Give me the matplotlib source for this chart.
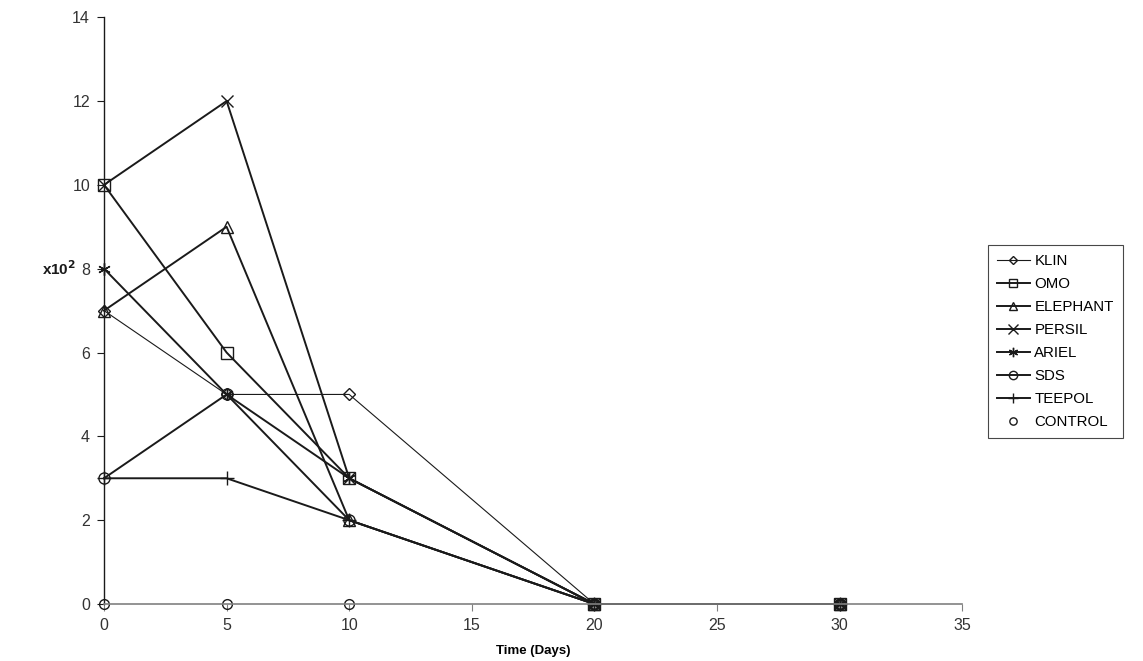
import matplotlib
matplotlib.use("Agg")
import matplotlib.pyplot as plt

plt.rcParams['font.family'] = ['Liberation Sans', 'DejaVu Sans']

days = [0, 5, 10, 20, 30]
klin = [7, 5, 5, 0, 0]
omo = [10, 6, 3, 0, 0]
elephant = [7, 9, 2, 0, 0]
persil = [10, 12, 3, 0, 0]
ariel = [8, 5, 3, 0, 0]
sds = [3, 5, 2, 0, 0]
teepol = [3, 3, 2, 0, 0]
control = [0, 0, 0, 0, 0]

series_names = ["KLIN", "OMO", "ELEPHANT", "PERSIL", "ARIEL", "SDS", "TEEPOL", "CONTROL"]
series_vals = [klin, omo, elephant, persil, ariel, sds, teepol, control]
markers = ['D', 's', '^', 'x', (6, 2, 0), 'o', '+', 'o']
msizes = [6, 8, 8, 9, 9, 8, 10, 7]
lws = [0.8, 1.4, 1.4, 1.4, 1.4, 1.4, 1.4, 0]

xticks = [0, 5, 10, 15, 20, 25, 30, 35]
yticks = [0, 2, 4, 6, 8, 10, 12, 14]

fig = plt.figure(figsize=(11.43, 6.61), dpi=100)
ax = fig.add_axes([0.091, 0.0862, 0.7508, 0.8878])

for name, vals, m, ms, lw in zip(series_names, series_vals, markers, msizes, lws):
    ls = '-' if lw > 0 else 'none'
    ax.plot(days, vals, color='#1a1a1a', linestyle=ls, linewidth=max(lw, 0.1),
            marker=m, markersize=ms, markerfacecolor='none',
            markeredgecolor='#1a1a1a', markeredgewidth=1.0, label=name, clip_on=False)

ax.set_xlim(0, 35)
ax.set_ylim(0, 14)
ax.set_xticks(xticks)
ax.set_yticks(yticks)
ax.tick_params(axis='both', direction='out', length=5, labelsize=11.5, colors='#333333')
ax.tick_params(axis='x', color='#808080', pad=5)
ax.tick_params(axis='y', color='#1a1a1a', pad=5)
for s in ['top', 'right']:
    ax.spines[s].set_visible(False)
ax.spines['left'].set_color('#1a1a1a')
ax.spines['bottom'].set_color('#808080')
ax.spines['left'].set_linewidth(1.0)
ax.spines['bottom'].set_linewidth(1.2)

ax.set_xlabel("Time (Days)", fontsize=9.5, fontweight='bold', labelpad=9)
ax.annotate("x10$^\\mathbf{2}$", xy=(0, 8), xycoords='data', xytext=(-20, 0),
            textcoords='offset points', ha='right', va='center',
            fontsize=11, fontweight='bold', color='#1a1a1a')

leg = ax.legend(loc='upper left', bbox_to_anchor=(1.030, 0.612), frameon=True,
                fancybox=False, edgecolor='#1a1a1a', fontsize=10.8,
                handlelength=2.2, handletextpad=0.3, labelspacing=0.6,
                borderpad=0.6, borderaxespad=0, markerscale=0.75)
leg.get_frame().set_linewidth(0.8)

fig.savefig("out.png", dpi=100)
